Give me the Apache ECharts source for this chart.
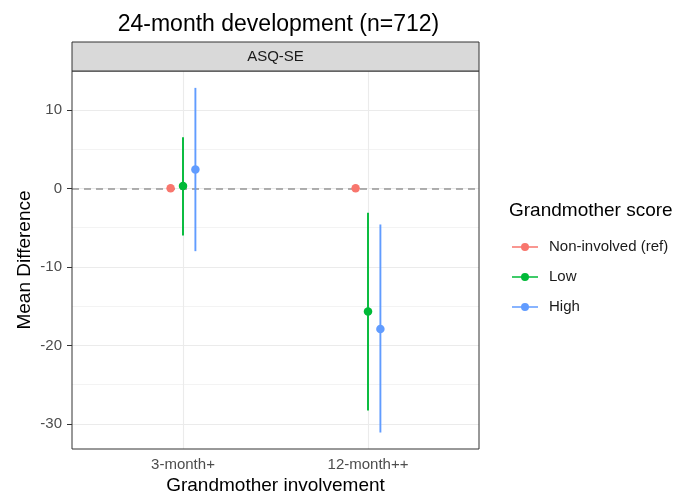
<!DOCTYPE html>
<html><head><meta charset="utf-8">
<script src="https://cdn.jsdelivr.net/npm/echarts@6/dist/echarts.min.js"></script>
<style>html,body{margin:0;padding:0;background:#fff;overflow:hidden}#c{width:689px;height:496px}</style>
</head><body><div id="c"></div>
<script>
const categories = ['3-month+', '12-month++'];
const groups = ['Non-involved (ref)', 'Low', 'High'];
const colors = ['#F8766D', '#00BA38', '#619CFF'];
// mean difference per category for each group
const refMean = [0, 0];
const lowMean = [0.3, -15.7];
const lowLower = [-6.0, -28.3];
const lowUpper = [6.5, -3.1];
const highMean = [2.4, -17.9];
const highLower = [-8.0, -31.1];
const highUpper = [12.8, -4.6];
const yTicks = [-30, -20, -10, 0, 10];
const yMinor = [-25, -15, -5, 5];
const title = '24-month development (n=712)';
const stripLabel = 'ASQ-SE';

const FONT = '"Liberation Sans", Arial, sans-serif';
const dodge = 0.067;
const offsets = [-dodge, 0, dodge];
const yMin = -33.2, yMax = 14.95;

function pts(means, gi) { return means.map((m, i) => [i + 1 + offsets[gi], m]); }
function bars(lo, hi, gi) { return lo.map((l, i) => [i + 1 + offsets[gi], l, hi[i]]); }

function errRender(color) {
  return function (params, api) {
    const x = api.value(0);
    const a = api.coord([x, api.value(1)]);
    const b = api.coord([x, api.value(2)]);
    return { type: 'line', shape: { x1: a[0], y1: a[1], x2: b[0], y2: b[1] },
      style: { stroke: color, lineWidth: 1.9 } };
  };
}

const chart = echarts.init(document.getElementById('c'), null, { renderer: 'canvas' });
const gridMark = (vals, w, axis) => vals.map(v => ({ [axis]: v, lineStyle: { color: '#EBEBEB', width: w, type: 'solid' } }));
const legendIcon = 'path://M0,3.15 L26,3.15 L26,4.85 L0,4.85 Z M9,4 A4,4 0 1 1 17,4 A4,4 0 1 1 9,4 Z';

chart.setOption({
  animation: false,
  textStyle: { fontFamily: FONT },
  title: { text: title, left: 273.5, top: 8, textAlign: 'center',
    textStyle: { fontFamily: FONT, fontSize: 23, fontWeight: 'normal', color: '#000' } },
  grid: { left: 72, right: 210, top: 71, bottom: 47, outerBoundsMode: 'none', containLabel: false,
    show: true, borderColor: '#333333', borderWidth: 1, backgroundColor: 'transparent', z: 6 },
  legend: {
    orient: 'vertical', left: 507, top: 233, itemWidth: 26, itemHeight: 8, itemGap: 12,
    data: groups.map((g, i) => ({ name: g, icon: legendIcon, itemStyle: { color: colors[i] } })),
    textStyle: { fontFamily: FONT, fontSize: 15, color: '#1A1A1A', lineHeight: 18, padding: [0, 0, 0, 6] },
    selectedMode: false
  },
  graphic: [
    { type: 'rect', shape: { x: 72, y: 42, width: 407, height: 29 }, style: { fill: '#D9D9D9', stroke: '#333333', lineWidth: 1 }, z: 10 },
    { type: 'text', x: 275.5, y: 57, style: { text: stripLabel, fontFamily: FONT, fontSize: 15, fill: '#1A1A1A', align: 'center', verticalAlign: 'middle' }, z: 11 },
    { type: 'text', x: 509, y: 211, style: { text: 'Grandmother score', fontFamily: FONT, fontSize: 19, fill: '#000', align: 'left', verticalAlign: 'middle' } }
  ],
  xAxis: {
    type: 'value', min: 0.4, max: 2.6,
    name: 'Grandmother involvement', nameLocation: 'middle', nameGap: 27, nameMoveOverlap: false,
    nameTextStyle: { fontFamily: FONT, fontSize: 19, color: '#000' },
    axisLine: { show: false },
    axisTick: { show: true, customValues: [1, 2], length: 5, lineStyle: { color: '#333333' } },
    axisLabel: { customValues: [1, 2], formatter: v => categories[Math.round(v) - 1] || '', fontFamily: FONT, fontSize: 15, color: '#4D4D4D', margin: 8 },
    splitLine: { show: false }
  },
  yAxis: {
    type: 'value', min: yMin, max: yMax,
    name: 'Mean Difference', nameLocation: 'middle', nameGap: 38, nameMoveOverlap: false,
    nameTextStyle: { fontFamily: FONT, fontSize: 19, color: '#000' },
    axisLine: { show: false },
    axisTick: { show: true, customValues: yTicks, length: 5, lineStyle: { color: '#333333' } },
    axisLabel: { customValues: yTicks, fontFamily: FONT, fontSize: 15, color: '#4D4D4D', margin: 10 },
    splitLine: { show: false }
  },
  series: [
    { type: 'line', name: '_grid', data: [], z: 1, silent: true,
      markLine: { z: 1, silent: true, symbol: 'none', label: { show: false }, animation: false,
        data: [].concat(gridMark(yMinor, 0.6, 'yAxis'), gridMark(yTicks, 1.1, 'yAxis'), gridMark([1, 2], 1.1, 'xAxis')) } },
    { type: 'line', name: '_hline', data: [], z: 2, silent: true,
      markLine: { z: 2, silent: true, symbol: 'none', label: { show: false }, animation: false,
        data: [{ yAxis: 0, lineStyle: { color: '#969696', width: 1.5, type: [7, 5] } }] } },
    { type: 'custom', name: groups[1], data: bars(lowLower, lowUpper, 1), renderItem: errRender(colors[1]), z: 3 },
    { type: 'custom', name: groups[2], data: bars(highLower, highUpper, 2), renderItem: errRender(colors[2]), z: 3 },
    { type: 'scatter', name: groups[0], data: pts(refMean, 0), symbolSize: 8.5, itemStyle: { color: colors[0], opacity: 1 }, z: 4 },
    { type: 'scatter', name: groups[1], data: pts(lowMean, 1), symbolSize: 8.5, itemStyle: { color: colors[1], opacity: 1 }, z: 4 },
    { type: 'scatter', name: groups[2], data: pts(highMean, 2), symbolSize: 8.5, itemStyle: { color: colors[2], opacity: 1 }, z: 4 }
  ]
});
</script></body></html>
